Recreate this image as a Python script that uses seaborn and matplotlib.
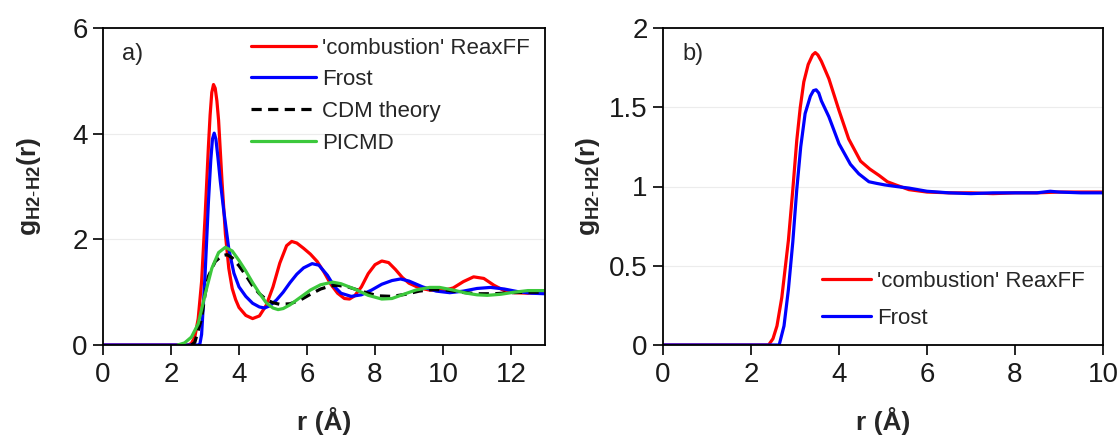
import numpy as np
import pandas as pd
import matplotlib
matplotlib.use("Agg")
import matplotlib.pyplot as plt
import seaborn as sns

# ---------------- data ----------------
# panel a)
r_reax_a = [0, 2.5, 2.6, 2.7, 2.8, 2.9, 3.0, 3.1, 3.15, 3.2, 3.25, 3.3, 3.35, 3.4, 3.5, 3.6, 3.7, 3.8, 3.9,
            4.0, 4.2, 4.4, 4.6, 4.8, 5.0, 5.2, 5.4, 5.55, 5.7, 5.9, 6.1, 6.3, 6.5, 6.7, 6.9, 7.1, 7.25,
            7.4, 7.6, 7.8, 8.0, 8.2, 8.4, 8.6, 8.8, 9.0, 9.3, 9.6, 10.0, 10.3, 10.6, 10.9, 11.2,
            11.5, 11.8, 12.1, 12.5, 13.0]
g_reax_a = [0, 0, 0.03, 0.15, 0.5, 1.2, 2.4, 3.75, 4.35, 4.78, 4.93, 4.86, 4.62, 4.25, 3.1, 2.1, 1.45, 1.07, 0.86,
            0.71, 0.56, 0.5, 0.55, 0.75, 1.1, 1.55, 1.88, 1.96, 1.93, 1.83, 1.72, 1.58, 1.38, 1.15, 0.98, 0.88,
            0.87, 0.93, 1.1, 1.35, 1.52, 1.59, 1.56, 1.43, 1.28, 1.17, 1.08, 1.04, 1.03, 1.08, 1.2, 1.29, 1.26,
            1.13, 1.03, 0.99, 0.98, 1.0]

r_frost_a = [0, 2.8, 2.85, 2.9, 3.0, 3.1, 3.17, 3.22, 3.27, 3.32, 3.38, 3.45, 3.55, 3.7, 3.85, 4.0, 4.2,
             4.4, 4.6, 4.75, 4.9, 5.1, 5.3, 5.5, 5.7, 5.9, 6.15, 6.35, 6.6, 6.8, 7.0, 7.3, 7.6, 7.9, 8.2,
             8.5, 8.75, 9.0, 9.4, 9.8, 10.2, 10.6, 11.0, 11.4, 11.8, 12.2, 12.6, 13.0]
g_frost_a = [0, 0, 0.02, 0.2, 1.3, 2.7, 3.5, 3.9, 4.01, 3.9, 3.55, 3.1, 2.55, 1.82, 1.36, 1.1, 0.92,
             0.79, 0.72, 0.70, 0.74, 0.85, 1.0, 1.18, 1.34, 1.46, 1.54, 1.51, 1.32, 1.11, 0.98, 0.92, 0.95,
             1.04, 1.15, 1.22, 1.25, 1.21, 1.1, 1.02, 0.99, 1.02, 1.07, 1.09, 1.06, 1.01, 0.98, 0.97]

r_cdm_a = [2.6, 2.7, 2.9, 3.0, 3.1, 3.3, 3.5, 3.65, 3.8, 4.0, 4.2, 4.4, 4.6, 4.8, 5.0, 5.2, 5.5, 5.8,
           6.1, 6.4, 6.7, 6.9, 7.2, 7.5, 7.8, 8.1, 8.5, 8.9, 9.3, 9.7, 10.1, 10.5, 11.0, 11.5, 12.0,
           12.5, 13.0]
g_cdm_a = [0, 0.05, 0.5, 0.95, 1.3, 1.58, 1.69, 1.71, 1.65, 1.5, 1.32, 1.12, 0.97, 0.86, 0.8, 0.77, 0.78, 0.85,
           0.96, 1.06, 1.12, 1.13, 1.1, 1.04, 0.98, 0.93, 0.92, 0.96, 1.02, 1.05, 1.04, 1.0, 0.97, 0.97, 0.99,
           1.0, 1.0]

r_picmd_a = [2.2, 2.4, 2.6, 2.8, 3.0, 3.2, 3.4, 3.6, 3.8, 4.0, 4.2, 4.4, 4.6, 4.8, 5.0, 5.15, 5.3, 5.5,
             5.8, 6.1, 6.4, 6.75, 7.0, 7.4, 7.8, 8.2, 8.5, 8.8, 9.2, 9.6, 9.9, 10.3, 10.7, 11.0, 11.3,
             11.7, 12.1, 12.5, 13.0]
g_picmd_a = [0, 0.04, 0.15, 0.4, 0.95, 1.45, 1.75, 1.85, 1.78, 1.6, 1.4, 1.18, 0.98, 0.8, 0.7, 0.67, 0.69, 0.76,
             0.9, 1.04, 1.14, 1.19, 1.16, 1.06, 0.94, 0.87, 0.88, 0.95, 1.04, 1.09, 1.09, 1.04, 0.98, 0.95, 0.94,
             0.96, 1.0, 1.03, 1.03]

# panel b)
r_reax_b = [0, 2.4, 2.5, 2.59, 2.7, 2.85, 2.95, 3.04, 3.12, 3.2, 3.3, 3.4, 3.46, 3.52, 3.6, 3.77, 4.0,
            4.22, 4.49, 4.7, 4.91, 5.1, 5.29, 5.59, 6.0, 6.5, 7.0, 7.5, 8.0, 8.5, 9.0, 9.5, 10.0]
g_reax_b = [0, 0, 0.04, 0.12, 0.3, 0.66, 0.98, 1.29, 1.5, 1.66, 1.77, 1.83, 1.845, 1.83, 1.79, 1.68, 1.48,
            1.30, 1.16, 1.11, 1.07, 1.03, 1.01, 0.98, 0.965, 0.96, 0.96, 0.955, 0.96, 0.96, 0.965, 0.965, 0.965]

r_frost_b = [0, 2.64, 2.75, 2.85, 2.95, 3.04, 3.13, 3.23, 3.35, 3.42, 3.48, 3.54, 3.6, 3.77, 4.0, 4.26,
             4.45, 4.68, 4.85, 5.04, 5.3, 5.59, 6.0, 6.5, 7.0, 7.5, 8.0, 8.5, 8.8, 9.0, 9.5, 10.0]
g_frost_b = [0, 0, 0.12, 0.35, 0.65, 0.98, 1.25, 1.46, 1.57, 1.605, 1.61, 1.59, 1.54, 1.44, 1.27, 1.14,
             1.08, 1.03, 1.02, 1.01, 1.0, 0.99, 0.97, 0.96, 0.955, 0.96, 0.96, 0.96, 0.97, 0.965, 0.96, 0.96]

labels_a = ["'combustion' ReaxFF", "Frost", "CDM theory", "PICMD"]
labels_b = ["'combustion' ReaxFF", "Frost"]
xticks_a = [0, 2, 4, 6, 8, 10, 12]
yticks_a = [0, 2, 4, 6]
xticks_b = [0, 2, 4, 6, 8, 10]
yticks_b = [0, 0.5, 1, 1.5, 2]
ytick_labels_b = ["0", "0.5", "1", "1.5", "2"]

# ---------------- style ----------------
sns.set_theme(style="white")
plt.rcParams["font.family"] = ["Liberation Sans", "DejaVu Sans"]
plt.rcParams["mathtext.fontset"] = "custom"
plt.rcParams["mathtext.rm"] = "Liberation Sans"
plt.rcParams["mathtext.bf"] = "Liberation Sans:bold"
plt.rcParams["mathtext.it"] = "Liberation Sans:italic"

RED = "#ff0000"
BLUE = "#0000ff"
GREEN = "#3cc83c"
BLACK = "#000000"
LW = 2.3
TICK_FS = 20
LAB_FS = 19
LEG_FS = 16
PANEL_FS = 17

fig = plt.figure(figsize=(11.2, 4.37), dpi=100)
ax1 = fig.add_axes([103 / 1120, 1 - 345 / 437, 442 / 1120, 317 / 437])
ax2 = fig.add_axes([663 / 1120, 1 - 345 / 437, 440 / 1120, 317 / 437])


def draw(ax, r, g, color, label, ls="-"):
    df = pd.DataFrame({"r": r, "g": g})
    sns.lineplot(data=df, x="r", y="g", ax=ax, color=color, lw=LW, label=label,
                 linestyle=ls, sort=False, estimator=None)


draw(ax1, r_reax_a, g_reax_a, RED, labels_a[0])
draw(ax1, r_frost_a, g_frost_a, BLUE, labels_a[1])
draw(ax1, r_cdm_a, g_cdm_a, BLACK, labels_a[2], ls=(0, (3.2, 2.0)))
draw(ax1, r_picmd_a, g_picmd_a, GREEN, labels_a[3])

draw(ax2, r_reax_b, g_reax_b, RED, labels_b[0])
draw(ax2, r_frost_b, g_frost_b, BLUE, labels_b[1])


def style_axes(ax, xlim, ylim, xticks, yticks, ytl, ylab_x):
    ax.set_xlim(*xlim)
    ax.set_ylim(*ylim)
    ax.set_xticks(xticks)
    ax.set_yticks(yticks)
    ax.set_yticklabels(ytl)
    ax.tick_params(axis="both", which="major", direction="out", length=7, width=1.2,
                   color="black", labelsize=TICK_FS, labelcolor="#1a1a1a",
                   bottom=True, left=True, top=False, right=False)
    ax.tick_params(axis="x", pad=5)
    ax.tick_params(axis="y", pad=4)
    for s in ax.spines.values():
        s.set_color("black")
        s.set_linewidth(1.3)
    ax.yaxis.grid(True, color="#ececec", lw=0.8)
    ax.xaxis.grid(False)
    ax.set_axisbelow(True)
    ax.set_xlabel("r (Å)", fontsize=LAB_FS, fontweight="bold")
    ax.set_ylabel(r"$\mathbf{g}_{\mathbf{H2\text{-}H2}}\mathbf{(r)}$", fontsize=LAB_FS)
    ax.xaxis.set_label_coords(0.5, -0.196)
    ax.yaxis.set_label_coords(ylab_x, 0.5)


style_axes(ax1, (0, 13), (0, 6), xticks_a, yticks_a, [str(v) for v in yticks_a], -0.136)
style_axes(ax2, (0, 10), (0, 2), xticks_b, yticks_b, ytick_labels_b, -0.139)

ax1.text(0.043, 0.918, "a)", transform=ax1.transAxes, fontsize=PANEL_FS, va="center", ha="left")
ax2.text(0.045, 0.918, "b)", transform=ax2.transAxes, fontsize=PANEL_FS, va="center", ha="left")

ax1.legend(loc="upper left", bbox_to_anchor=(0.335, 0.97), frameon=False, fontsize=LEG_FS,
           handlelength=2.9, handletextpad=0.3, labelspacing=0.48, borderpad=0, borderaxespad=0)
ax2.legend(loc="upper left", bbox_to_anchor=(0.361, 0.235), frameon=False, fontsize=LEG_FS,
           handlelength=2.2, handletextpad=0.3, labelspacing=0.72, borderpad=0, borderaxespad=0)

fig.savefig("out.png", dpi=100)
